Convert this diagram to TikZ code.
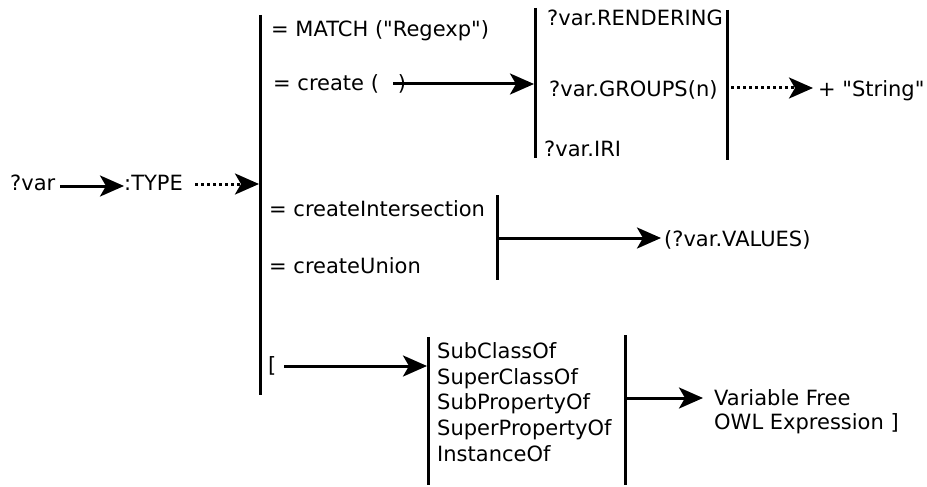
\documentclass[tikz,border=0pt]{standalone}
\usepackage{fontspec}
\setmainfont{DejaVu Sans}[Ligatures=TeXOff]
\usetikzlibrary{arrows.meta}
\begin{document}
\begin{tikzpicture}[x=1pt,y=-1pt,
  lbl/.style={anchor=base west,inner sep=0pt,font=\fontsize{21}{25}\selectfont},
  bar/.style={line width=3pt},
  arr/.style={line width=3pt,-{Stealth[length=24pt,width=21pt,inset=6pt]}},
  dotarr/.style={arr,dash pattern=on 3pt off 3pt}]
\useasboundingbox (0,0) rectangle (927,487);
% texts
\node[lbl] (var) at (10,190) {?var};
\node[lbl] (type) at (124,190) {:TYPE};
\node[lbl] (match) at (271,37) {= MATCH ("Regexp")};
\node[lbl] (create) at (273,91) {= create (\hspace{19pt})};
\node[lbl] (rend) at (547,26) {?var.RENDERING};
\node[lbl] (groups) at (549,96) {?var.GROUPS(n)};
\node[lbl] (iri) at (544,156) {?var.IRI};
\node[lbl] (str) at (818,96) {+ "String"};
\node[lbl] (inter) at (269,216) {= createIntersection};
\node[lbl] (union) at (269,273) {= createUnion};
\node[lbl] (values) at (664,246) {(?var.VALUES)};
\node[lbl] (brk) at (268,372) {[};
\node[lbl] (l1) at (437,358) {SubClassOf};
\node[lbl] (l2) at (437,384) {SuperClassOf};
\node[lbl] (l3) at (437,409.5) {SubPropertyOf};
\node[lbl] (l4) at (437,435) {SuperPropertyOf};
\node[lbl] (l5) at (437,461) {InstanceOf};
\node[lbl] (vf1) at (714,405) {Variable Free};
\node[lbl] (vf2) at (714,429) {OWL Expression ]};
% bars
\coordinate (m1) at (260,15);  \coordinate (m2) at (260,395);
\coordinate (b2a) at (535,8);  \coordinate (b2b) at (535,158);
\coordinate (b3a) at (727,10); \coordinate (b3b) at (727,160);
\coordinate (b4a) at (497,195); \coordinate (b4b) at (497,280);
\coordinate (b5a) at (428,337); \coordinate (b5b) at (428,485);
\coordinate (b6a) at (625,335); \coordinate (b6b) at (625,485);
\draw[bar] (m1) -- (m2);
\draw[bar] (b2a) -- (b2b);
\draw[bar] (b3a) -- (b3b);
\draw[bar] (b4a) -- (b4b);
\draw[bar] (b5a) -- (b5b);
\draw[bar] (b6a) -- (b6b);
% connector endpoints
\coordinate (vs) at (60,186);   \coordinate (ve) at (124,186);
\coordinate (ts) at (195,184);  \coordinate (min) at (259,184);
\coordinate (cs) at (393,84);   \coordinate (b2in) at (534,84);
\coordinate (b3out) at (731,88); \coordinate (se) at (813,88);
\coordinate (b4out) at (497,238); \coordinate (vae) at (661,238);
\coordinate (bs) at (284,366);  \coordinate (b5in) at (427,366);
\coordinate (b6out) at (625,398); \coordinate (fe) at (703,398);
% connectors
\draw[arr] (vs) -- (ve);
\draw[dotarr] (ts) -- (min);
\draw[arr] (cs) -- (b2in);
\draw[dotarr] (b3out) -- (se);
\draw[arr] (b4out) -- (vae);
\draw[arr] (bs) -- (b5in);
\draw[arr] (b6out) -- (fe);
\end{tikzpicture}
\end{document}
